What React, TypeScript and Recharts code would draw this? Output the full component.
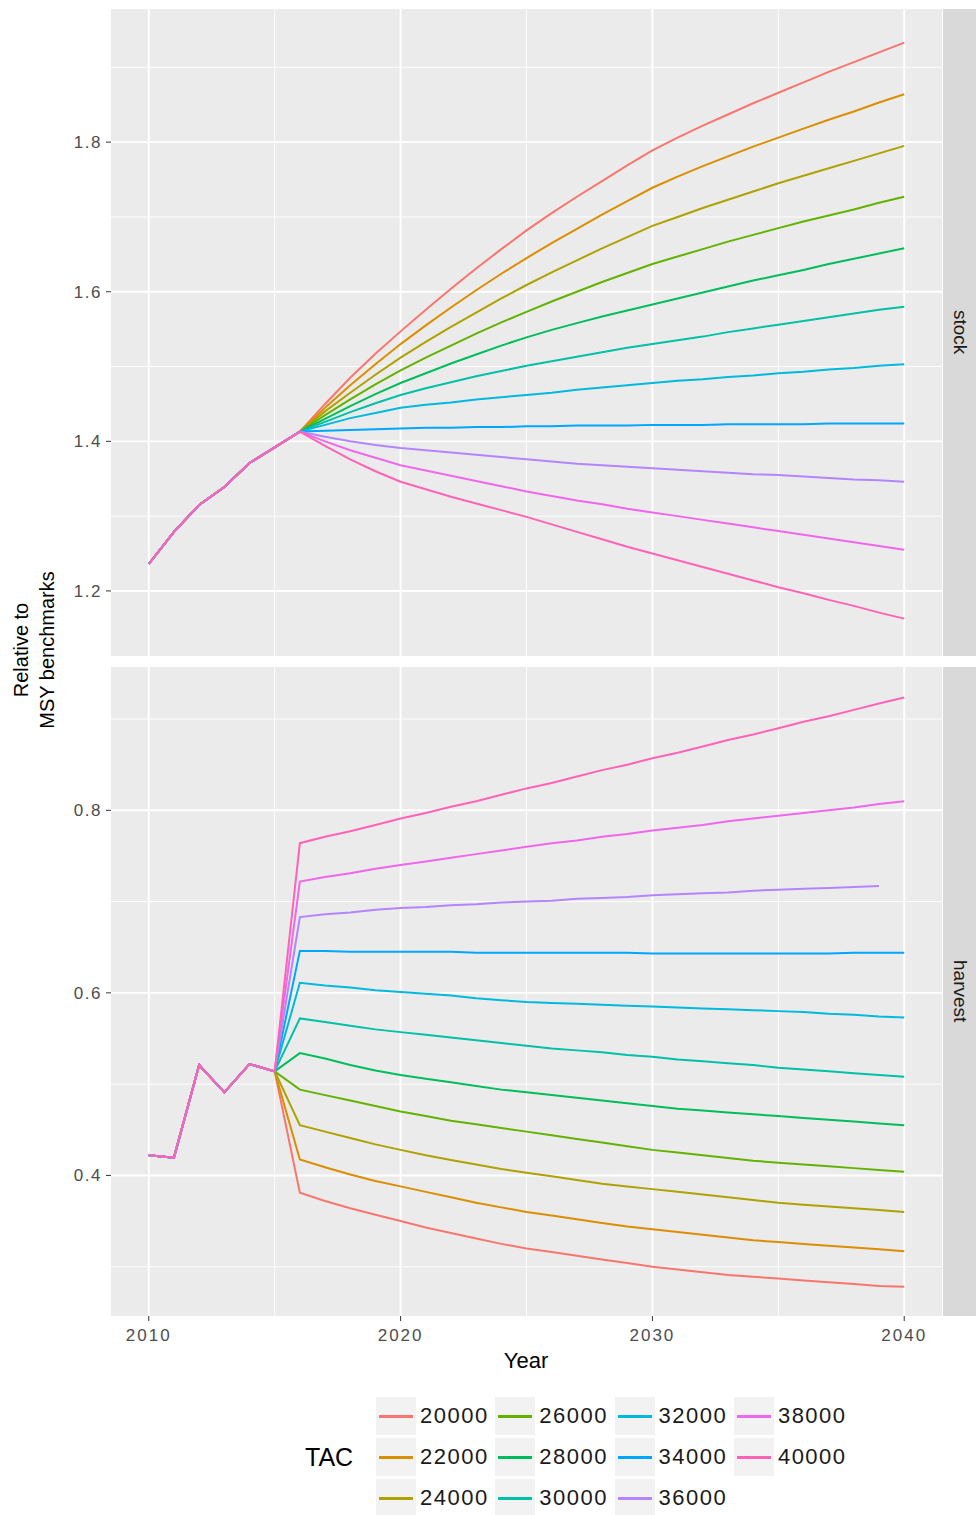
import { LineChart, Line, XAxis, YAxis, CartesianGrid } from "recharts";

// years on the x axis
const years = [
  2010, 2011, 2012, 2013, 2014, 2015, 2016, 2017, 2018, 2019, 2020,
  2021, 2022, 2023, 2024, 2025, 2026, 2027, 2028, 2029, 2030,
  2031, 2032, 2033, 2034, 2035, 2036, 2037, 2038, 2039, 2040,
];

const tacs = ["20000", "22000", "24000", "26000", "28000", "30000", "32000", "34000", "36000", "38000", "40000"];
const tacColors = ["#F8766D", "#DB8E00", "#AEA200", "#64B200", "#00BD5C", "#00C1A7", "#00BADE", "#00A6FF", "#B385FF", "#EF67EB", "#FF63B6"];

// stock: shared history 2010-2016, then one path per TAC for 2017-2040
const stockHistory = [1.236, 1.279, 1.315, 1.339, 1.371, 1.392, 1.413];
const stock20000 = [1.450, 1.485, 1.517, 1.547, 1.576, 1.604, 1.631, 1.657, 1.682, 1.705, 1.727, 1.748, 1.769, 1.789, 1.806, 1.822, 1.837, 1.852, 1.866, 1.880, 1.894, 1.907, 1.920, 1.933];
const stock22000 = [1.445, 1.475, 1.503, 1.530, 1.555, 1.579, 1.602, 1.624, 1.645, 1.665, 1.684, 1.703, 1.721, 1.739, 1.754, 1.768, 1.781, 1.794, 1.806, 1.818, 1.830, 1.841, 1.853, 1.864];
const stock24000 = [1.440, 1.465, 1.489, 1.512, 1.533, 1.553, 1.572, 1.591, 1.609, 1.626, 1.642, 1.658, 1.673, 1.688, 1.700, 1.712, 1.723, 1.734, 1.745, 1.755, 1.765, 1.775, 1.785, 1.795];
const stock26000 = [1.435, 1.456, 1.476, 1.495, 1.512, 1.528, 1.544, 1.559, 1.573, 1.587, 1.600, 1.613, 1.625, 1.637, 1.647, 1.657, 1.667, 1.676, 1.685, 1.694, 1.702, 1.710, 1.719, 1.727];
const stock28000 = [1.430, 1.447, 1.463, 1.478, 1.491, 1.504, 1.516, 1.528, 1.539, 1.549, 1.558, 1.567, 1.575, 1.583, 1.591, 1.599, 1.607, 1.615, 1.622, 1.629, 1.637, 1.644, 1.651, 1.658];
const stock30000 = [1.426, 1.439, 1.451, 1.462, 1.471, 1.479, 1.487, 1.494, 1.501, 1.507, 1.513, 1.519, 1.525, 1.530, 1.535, 1.540, 1.546, 1.551, 1.556, 1.561, 1.566, 1.571, 1.576, 1.580];
const stock32000 = [1.422, 1.431, 1.438, 1.445, 1.449, 1.452, 1.456, 1.459, 1.462, 1.465, 1.469, 1.472, 1.475, 1.478, 1.481, 1.483, 1.486, 1.488, 1.491, 1.493, 1.496, 1.498, 1.501, 1.503];
const stock34000 = [1.414, 1.415, 1.416, 1.417, 1.418, 1.418, 1.419, 1.419, 1.420, 1.420, 1.421, 1.421, 1.421, 1.422, 1.422, 1.422, 1.423, 1.423, 1.423, 1.423, 1.424, 1.424, 1.424, 1.424];
const stock36000 = [1.406, 1.400, 1.395, 1.391, 1.388, 1.385, 1.382, 1.379, 1.376, 1.373, 1.370, 1.368, 1.366, 1.364, 1.362, 1.360, 1.358, 1.356, 1.355, 1.353, 1.351, 1.349, 1.348, 1.346];
const stock38000 = [1.400, 1.388, 1.378, 1.368, 1.361, 1.354, 1.347, 1.340, 1.333, 1.327, 1.321, 1.316, 1.310, 1.305, 1.300, 1.295, 1.290, 1.285, 1.280, 1.275, 1.270, 1.265, 1.260, 1.255];
const stock40000 = [1.394, 1.376, 1.360, 1.346, 1.336, 1.326, 1.317, 1.308, 1.299, 1.289, 1.279, 1.269, 1.259, 1.250, 1.241, 1.232, 1.223, 1.214, 1.205, 1.197, 1.188, 1.180, 1.171, 1.163];

// harvest: shared history 2010-2015, then one path per TAC for 2016-2040
const harvestHistory = [0.422, 0.4195, 0.521, 0.491, 0.522, 0.514];
const harvest20000 = [0.381, 0.372, 0.364, 0.357, 0.350, 0.343, 0.337, 0.331, 0.325, 0.320, 0.316, 0.312, 0.308, 0.304, 0.300, 0.297, 0.294, 0.291, 0.289, 0.287, 0.285, 0.283, 0.281, 0.279, 0.278];
const harvest22000 = [0.4175, 0.409, 0.401, 0.394, 0.388, 0.382, 0.376, 0.370, 0.365, 0.360, 0.356, 0.352, 0.348, 0.344, 0.341, 0.338, 0.335, 0.332, 0.329, 0.327, 0.325, 0.323, 0.321, 0.319, 0.317];
const harvest24000 = [0.455, 0.448, 0.441, 0.434, 0.428, 0.422, 0.417, 0.412, 0.407, 0.403, 0.399, 0.395, 0.391, 0.388, 0.385, 0.382, 0.379, 0.376, 0.373, 0.370, 0.368, 0.366, 0.364, 0.362, 0.360];
const harvest26000 = [0.494, 0.488, 0.482, 0.476, 0.470, 0.465, 0.460, 0.456, 0.452, 0.448, 0.444, 0.440, 0.436, 0.432, 0.428, 0.425, 0.422, 0.419, 0.416, 0.414, 0.412, 0.410, 0.408, 0.406, 0.404];
const harvest28000 = [0.534, 0.528, 0.521, 0.515, 0.510, 0.506, 0.502, 0.498, 0.494, 0.491, 0.488, 0.485, 0.482, 0.479, 0.476, 0.473, 0.471, 0.469, 0.467, 0.465, 0.463, 0.461, 0.459, 0.457, 0.455];
const harvest30000 = [0.572, 0.568, 0.564, 0.560, 0.557, 0.554, 0.551, 0.548, 0.545, 0.542, 0.539, 0.537, 0.535, 0.532, 0.530, 0.527, 0.525, 0.523, 0.521, 0.518, 0.516, 0.514, 0.512, 0.510, 0.508];
const harvest32000 = [0.611, 0.608, 0.606, 0.603, 0.601, 0.599, 0.597, 0.594, 0.592, 0.590, 0.589, 0.588, 0.587, 0.586, 0.585, 0.584, 0.583, 0.582, 0.581, 0.580, 0.579, 0.577, 0.576, 0.574, 0.573];
const harvest34000 = [0.646, 0.646, 0.645, 0.645, 0.645, 0.645, 0.645, 0.644, 0.644, 0.644, 0.644, 0.644, 0.644, 0.644, 0.643, 0.643, 0.643, 0.643, 0.643, 0.643, 0.643, 0.643, 0.644, 0.644, 0.644];
const harvest36000 = [0.683, 0.686, 0.688, 0.691, 0.693, 0.694, 0.696, 0.697, 0.699, 0.700, 0.701, 0.703, 0.704, 0.705, 0.707, 0.708, 0.709, 0.710, 0.712, 0.713, 0.714, 0.715, 0.716, 0.717, null];
const harvest38000 = [0.722, 0.727, 0.731, 0.736, 0.740, 0.744, 0.748, 0.752, 0.756, 0.760, 0.764, 0.767, 0.771, 0.774, 0.778, 0.781, 0.784, 0.788, 0.791, 0.794, 0.797, 0.800, 0.803, 0.807, 0.810];
const harvest40000 = [0.764, 0.771, 0.777, 0.784, 0.791, 0.797, 0.804, 0.810, 0.817, 0.824, 0.830, 0.837, 0.844, 0.850, 0.857, 0.863, 0.870, 0.877, 0.883, 0.890, 0.897, 0.903, 0.910, 0.917, 0.9235];

const stockTicks = [1.2, 1.4, 1.6, 1.8];
const stockMinor = [1.3, 1.5, 1.7, 1.9];
const harvestTicks = [0.4, 0.6, 0.8];
const harvestMinor = [0.3, 0.5, 0.7, 0.9];
const yearTicks = [2010, 2020, 2030, 2040];
const yearMinor = [2015, 2025, 2035];

const stockPaths = [stock20000, stock22000, stock24000, stock26000, stock28000, stock30000, stock32000, stock34000, stock36000, stock38000, stock40000];
const harvestPaths = [harvest20000, harvest22000, harvest24000, harvest26000, harvest28000, harvest30000, harvest32000, harvest34000, harvest36000, harvest38000, harvest40000];

function buildRows(history: number[], paths: (number | null)[][]) {
  return years.map((year, i) => {
    const row: Record<string, number | null> = { year };
    tacs.forEach((tac, k) => {
      row[tac] = i < history.length ? history[i] : paths[k][i - history.length];
    });
    return row;
  });
}

const stockRows = buildRows(stockHistory, stockPaths);
const harvestRows = buildRows(harvestHistory, harvestPaths);

const tickStyle = { fill: "#4D4D4D", fontSize: 17, letterSpacing: 1.5 };

function Panel({ rows, domain, ticks, minor, showX, height, top }: any) {
  return (
    <LineChart
      width={976}
      height={height}
      data={rows}
      margin={{ top, right: 34, left: 0, bottom: showX ? 0 : 9 }}
    >
      <CartesianGrid fill="#EBEBEB" stroke="#FFFFFF" strokeWidth={0.9} horizontalValues={minor} verticalValues={yearMinor} />
      <CartesianGrid fill="none" stroke="#FFFFFF" strokeWidth={1.9} horizontalValues={ticks} verticalValues={yearTicks} />
      <XAxis
        dataKey="year" type="number" domain={[2008.5, 2041.5]} ticks={yearTicks}
        hide={!showX} height={41} axisLine={false} tickSize={5} tickMargin={8}
        tickLine={{ stroke: "#333333" }} tick={{ ...tickStyle, letterSpacing: 2 }} allowDataOverflow
      />
      <YAxis
        type="number" domain={domain} ticks={ticks} width={111} axisLine={false}
        tickSize={5} tickMargin={4} tickLine={{ stroke: "#333333" }} tick={tickStyle}
        tickFormatter={(v: number) => v.toFixed(1)} allowDataOverflow
      />
      {tacs.map((tac, k) => (
        <Line key={tac} dataKey={tac} type="linear" stroke={tacColors[k]} strokeWidth={2} dot={false} isAnimationActive={false} />
      ))}
    </LineChart>
  );
}

function Strip({ label, top, height }: { label: string; top: number; height: number }) {
  return (
    <div style={{
      position: "absolute", left: 943, top, width: 33, height, background: "#D9D9D9",
      display: "flex", alignItems: "center", justifyContent: "center",
    }}>
      <span style={{ writingMode: "vertical-rl", fontSize: 19, color: "#1A1A1A" }}>{label}</span>
    </div>
  );
}

export default function App() {
  return (
    <div style={{ position: "absolute", left: 0, top: 0, width: 976, height: 1515, background: "#FFFFFF", fontFamily: "'Liberation Sans', Arial, sans-serif" }}>
      <div style={{ position: "absolute", left: 0, top: 0 }}>
        <Panel rows={stockRows} domain={[1.113, 1.978]} ticks={stockTicks} minor={stockMinor} showX={false} height={665} top={9} />
      </div>
      <div style={{ position: "absolute", left: 0, top: 657 }}>
        <Panel rows={harvestRows} domain={[0.246, 0.957]} ticks={harvestTicks} minor={harvestMinor} showX height={700} top={10} />
      </div>
      <Strip label="stock" top={9} height={647} />
      <Strip label="harvest" top={667} height={649} />

      <div style={{
        position: "absolute", left: 34 - 110, top: 650 - 26, width: 220, height: 52,
        transform: "rotate(-90deg)", textAlign: "center", fontSize: 20, lineHeight: "26px", color: "#000",
      }}>
        Relative to<br />MSY benchmarks
      </div>
      <div style={{ position: "absolute", left: 476, top: 1348, width: 100, textAlign: "center", fontSize: 22, color: "#000" }}>
        Year
      </div>

      <div style={{ position: "absolute", left: 305, top: 1443, fontSize: 25, color: "#000" }}>TAC</div>
      {tacs.map((tac, k) => {
        const col = Math.floor(k / 3);
        const row = k % 3;
        const x = 376 + col * 119.3;
        const cy = 1416 + row * 41;
        return (
          <div key={tac}>
            <div style={{ position: "absolute", left: x, top: cy - 19, width: 40, height: 38, background: "#F2F2F2" }}>
              <div style={{ position: "absolute", left: 3, right: 3, top: 18, height: 2.5, background: tacColors[k] }} />
            </div>
            <div style={{ position: "absolute", left: x + 44, top: cy - 13, fontSize: 22, lineHeight: "26px", letterSpacing: 1.5, color: "#1A1A1A" }}>
              {tac}
            </div>
          </div>
        );
      })}
    </div>
  );
}
